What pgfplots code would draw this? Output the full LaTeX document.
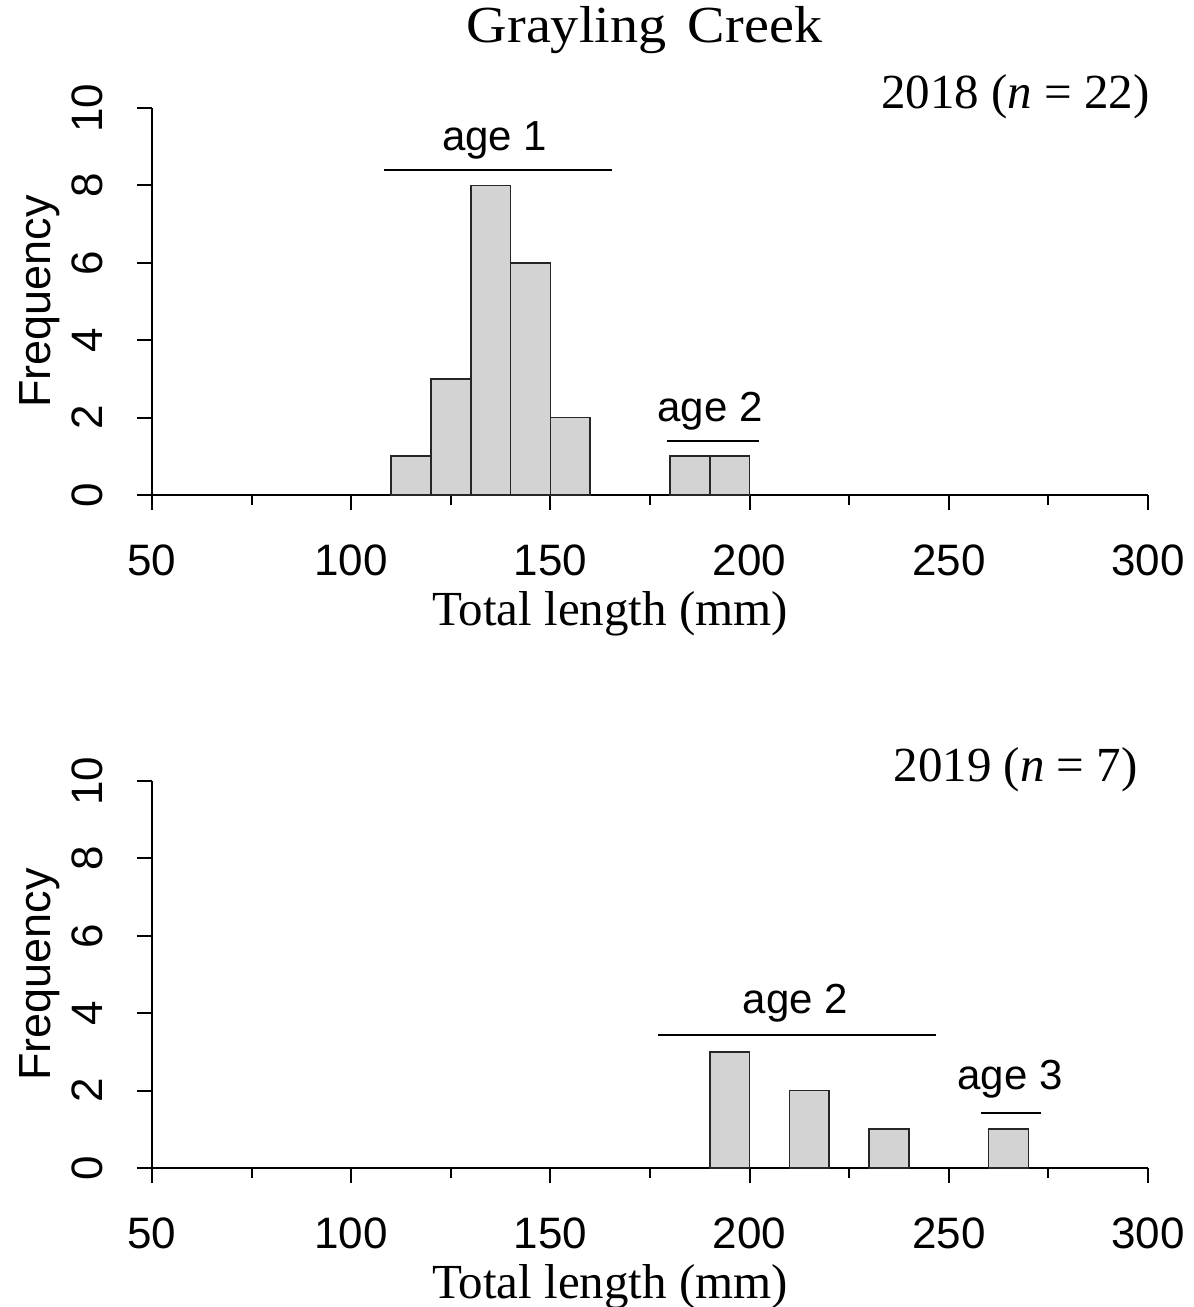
\documentclass[border=0pt]{standalone}
\usepackage{fontspec}
\setmainfont{Liberation Serif}
\newfontfamily\arialfont{Liberation Sans}
\usepackage{graphicx}
\usepackage{pgfplots}
\pgfplotsset{compat=1.18}
\definecolor{barfill}{RGB}{211,211,211}
\newcommand\agefont{\arialfont\fontsize{21}{25}\selectfont}
\newcommand\labfont{\fontsize{24.5}{29}\selectfont}
\pgfplotsset{
 histo/.style={
  scale only axis, width=498pt, height=193.5pt,
  xmin=50, xmax=300, ymin=0, ymax=10,
  axis lines=left, axis line style={-, line width=1pt},
  xtick={50,100,...,300}, minor xtick={75,125,...,275},
  ytick={0,2,...,10},
  tick align=outside, major tick length=7.5pt, minor tick length=5pt,
  tick style={black, line width=1pt},
  /pgf/number format/assume math mode=true,
  ticklabel style={font=\arialfont\fontsize{22}{26}\selectfont},
  xticklabel style={anchor=base, yshift=-32.5pt},
  yticklabel style={xshift=-17pt, rotate=90, anchor=base},
  clip=false,
 },
 bars/.style={ybar interval, fill=barfill, draw=black!85, line width=0.85pt},
}
\begin{document}
\begin{tikzpicture}
\useasboundingbox (0,0) rectangle (597pt,-653.5pt);
% ---------- 2018 ----------
\begin{axis}[histo, at={(76pt,-247.5pt)}, anchor=south west]
\addplot[bars] coordinates {(110,1) (120,3) (130,8) (140,6) (150,2) (160,2)};
\addplot[bars] coordinates {(180,1) (190,1) (200,1)};
\draw[line width=0.7pt] (axis cs:108.2,8.40) -- (axis cs:165.5,8.40);
\node[anchor=base, font=\agefont] at (axis cs:136.0,8.91) {age 1};
\draw[line width=0.7pt] (axis cs:179.3,1.40) -- (axis cs:202.4,1.40);
\node[anchor=base, font=\agefont] at (axis cs:190.1,1.91) {age 2};
\node[anchor=base east, inner sep=0pt, font=\labfont] at (axis cs:300.5,10) {2018 (\textit{n} = 22)};
\node[anchor=base, inner sep=0pt, font=\fontsize{26}{31}\selectfont] at (axis cs:173.6,11.705) {\scalebox{1.08}[1]{Grayling\hspace{10pt}Creek}};
\node[anchor=base, inner sep=0pt, font=\labfont] at (axis cs:165,-3.36) {Total length (mm)};
\node[anchor=base, rotate=90, inner sep=0pt, font=\arialfont\fontsize{22.5}{27}\selectfont] at (axis cs:24.4,5) {Frequency};
\end{axis}
% ---------- 2019 ----------
\begin{axis}[histo, at={(76pt,-584pt)}, anchor=south west]
\addplot[bars] coordinates {(190,3) (200,3)};
\addplot[bars] coordinates {(210,2) (220,2)};
\addplot[bars] coordinates {(230,1) (240,1)};
\addplot[bars] coordinates {(260,1) (270,1)};
\draw[line width=0.7pt] (axis cs:177.0,3.44) -- (axis cs:246.8,3.44);
\node[anchor=base, font=\agefont] at (axis cs:211.5,4.0) {age 2};
\draw[line width=0.7pt] (axis cs:258.1,1.42) -- (axis cs:273.1,1.42);
\node[anchor=base, font=\agefont] at (axis cs:265.4,2.02) {age 3};
\node[anchor=base east, inner sep=0pt, font=\labfont] at (axis cs:297.5,10) {2019 (\textit{n} = 7)};
\node[anchor=base, inner sep=0pt, font=\labfont] at (axis cs:165,-3.36) {Total length (mm)};
\node[anchor=base, rotate=90, inner sep=0pt, font=\arialfont\fontsize{22.5}{27}\selectfont] at (axis cs:24.4,5) {Frequency};
\end{axis}
\end{tikzpicture}
\end{document}
